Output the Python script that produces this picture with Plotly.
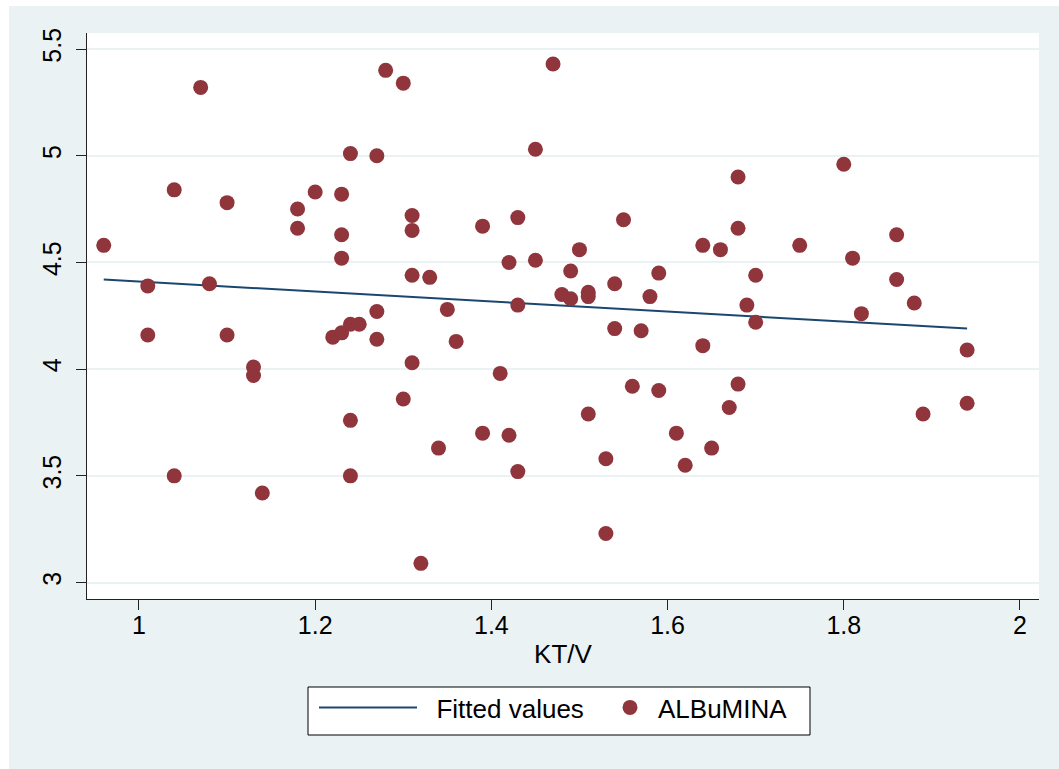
import plotly.graph_objects as go

# ---- data ----
ktv = [0.96, 1.01, 1.01, 1.04, 1.04, 1.07, 1.08, 1.10, 1.10, 1.13, 1.13, 1.14,
       1.18, 1.18, 1.20, 1.22, 1.23, 1.23, 1.23, 1.23, 1.24, 1.24, 1.24, 1.24,
       1.25, 1.27, 1.27, 1.27, 1.28, 1.30, 1.30, 1.31, 1.31, 1.31, 1.31, 1.32,
       1.33, 1.34, 1.35, 1.36, 1.39, 1.39, 1.41, 1.42, 1.42, 1.43, 1.43, 1.43,
       1.45, 1.45, 1.47, 1.48, 1.49, 1.49, 1.50, 1.51, 1.51, 1.51, 1.53, 1.53,
       1.54, 1.54, 1.55, 1.56, 1.57, 1.58, 1.59, 1.59, 1.61, 1.62, 1.64, 1.64,
       1.65, 1.66, 1.67, 1.68, 1.68, 1.68, 1.69, 1.70, 1.70, 1.75, 1.80, 1.81,
       1.82, 1.86, 1.86, 1.88, 1.89, 1.94, 1.94]
albumina = [4.58, 4.39, 4.16, 4.84, 3.50, 5.32, 4.40, 4.78, 4.16, 4.01, 3.97, 3.42,
            4.75, 4.66, 4.83, 4.15, 4.82, 4.63, 4.52, 4.17, 4.21, 5.01, 3.76, 3.50,
            4.21, 5.00, 4.27, 4.14, 5.40, 5.34, 3.86, 4.72, 4.65, 4.44, 4.03, 3.09,
            4.43, 3.63, 4.28, 4.13, 4.67, 3.70, 3.98, 4.50, 3.69, 4.71, 4.30, 3.52,
            5.03, 4.51, 5.43, 4.35, 4.46, 4.33, 4.56, 4.36, 4.34, 3.79, 3.58, 3.23,
            4.40, 4.19, 4.70, 3.92, 4.18, 4.34, 4.45, 3.90, 3.70, 3.55, 4.58, 4.11,
            3.63, 4.56, 3.82, 4.90, 4.66, 3.93, 4.30, 4.44, 4.22, 4.58, 4.96, 4.52,
            4.26, 4.63, 4.42, 4.31, 3.79, 4.09, 3.84]
fit_x = [0.96, 1.94]
fit_y = [4.42, 4.19]

x_ticks = [1, 1.2, 1.4, 1.6, 1.8, 2]
x_ticklabels = ["1", "1.2", "1.4", "1.6", "1.8", "2"]
y_ticks = [3, 3.5, 4, 4.5, 5, 5.5]
y_ticklabels = ["3", "3.5", "4", "4.5", "5", "5.5"]

# ---- styling ----
BG = "#EAF2F3"
MARKER = "#90353B"
LINE = "#1A476F"
FONT = "Liberation Sans, Arial, sans-serif"

fig = go.Figure()
fig.add_trace(go.Scatter(x=fit_x, y=fit_y, mode="lines",
                         name="\u00a0\u00a0Fitted values",
                         line=dict(color=LINE, width=2), legend="legend",
                         showlegend=True))
fig.add_trace(go.Scatter(x=ktv, y=albumina, mode="markers", name="ALBuMINA",
                         marker=dict(color=MARKER, size=15, line=dict(width=0)),
                         legend="legend2", showlegend=True))

L, R, T, B = 87, 20, 33, 170
W, H = 1059, 769
pw, ph = W - L - R, H - T - B

def px(xp):
    return (xp - L) / pw

def py(yp):
    return (H - B - yp) / ph

shapes = [
    dict(type="rect", xref="paper", yref="paper", x0=px(9), x1=px(W + 5),
         y0=py(H + 5), y1=py(6), fillcolor=BG, line=dict(width=0), layer="below"),
    dict(type="rect", xref="paper", yref="paper", x0=0, x1=1, y0=0, y1=1,
         fillcolor="white", line=dict(width=0), layer="below"),
    dict(type="rect", xref="paper", yref="paper", x0=px(308), x1=px(810),
         y0=py(735), y1=py(687), fillcolor="white",
         line=dict(color="black", width=1), layer="below"),
]

fig.update_layout(
    width=W, height=H,
    showlegend=True,
    margin=dict(l=L, r=R, t=T, b=B, pad=0),
    paper_bgcolor="white", plot_bgcolor="white",
    font=dict(family=FONT, size=25, color="black"),
    shapes=shapes,
    legend=dict(orientation="h", x=px(314), xanchor="left", y=py(684), yanchor="top",
                bgcolor="rgba(0,0,0,0)", borderwidth=0, itemwidth=98,
                font=dict(size=26)),
    legend2=dict(orientation="h", x=px(602), xanchor="left", y=py(684), yanchor="top",
                 bgcolor="rgba(0,0,0,0)", borderwidth=0, itemwidth=46,
                 font=dict(size=26)),
    xaxis=dict(range=[0.941, 2.0216], tickvals=x_ticks, ticktext=x_ticklabels,
               showgrid=False, zeroline=False, showline=True, linecolor="#222",
               linewidth=1, ticks="outside", ticklen=10, tickcolor="#222",
               ticklabelstandoff=-6, tickfont=dict(size=25),
               title=dict(text="KT/V", standoff=6, font=dict(size=26))),
    yaxis=dict(range=[2.923, 5.575], tickvals=y_ticks, ticktext=y_ticklabels,
               showgrid=True, gridcolor=BG, gridwidth=2, zeroline=False,
               showline=True, linecolor="#222", linewidth=1, ticks="outside",
               ticklen=10, tickcolor="#222", tickangle=-90,
               ticklabelstandoff=5, tickfont=dict(size=25)),
)

fig.write_html("out.html", config={"displayModeBar": False},
               post_script="document.body.style.margin='0';document.body.style.padding='0';")
